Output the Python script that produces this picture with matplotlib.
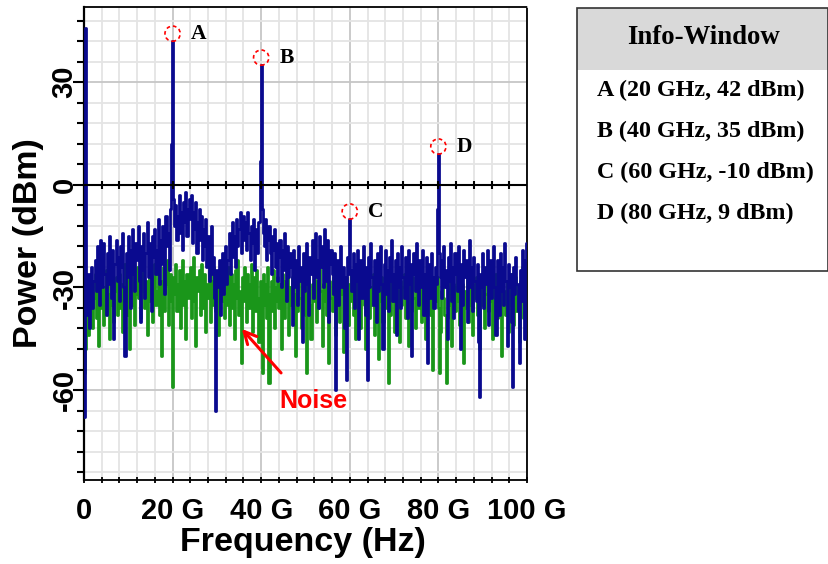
import numpy as np
import matplotlib
matplotlib.use("Agg")
import matplotlib.pyplot as plt
from matplotlib.patches import Ellipse, Rectangle
from matplotlib.ticker import MultipleLocator, FixedLocator

plt.rcParams["path.simplify"] = False

# ---------------- data ----------------
freq_step_ghz = 0.25
signal_dbm = [
    -68, 46, -30, -38, -26, -42, -33, -24, -36, -28, -22, -31, -18, -27, -35, -16,
    -24, -30, -17, -26, -38, -20, -29, -15, -25, -33, -19, -45, -23, -16, -28, -21,
    -34, -18, -24, -14, -30, -50, -20, -27, -15, -23, -36, -19, -13, -26, -31, -17,
    -22, -12, -28, -40, -18, -25, -14, -33, -20, -11, -27, -17, -24, -37, -15, -21,
    -13, -26, -19, -10, -29, -16, -23, -12, -20, -32, -9, -18, -14, -25, -7, 12,
    42, -4, -12, -6, -16, -9, -3, -14, -8, -19, -5, -11, -2, -15, -7, -4,
    -10, -3, -17, -8, -13, -5, -20, -11, -7, -16, -9, -22, -13, -18, -10, -24,
    -15, -28, -19, -12, -26, -21, -33, -66, -25, -30, -22, -38, -27, -20, -32, -24,
    -18, -29, -22, -14, -26, -17, -11, -21, -15, -24, -10, -18, -13, -8, -20, -12,
    -9, -16, -11, -19, -8, -14, -22, -12, -17, -10, -25, -15, -13, -20, -11, 7,
    35, -7, -14, -18, -10, -22, -16, -12, -20, -26, -15, -19, -13, -24, -17, -28,
    -21, -16, -30, -19, -25, -14, -22, -34, -18, -27, -20, -24, -41, -19, -26, -30,
    -22, -35, -18, -28, -24, -46, -20, -31, -25, -17, -29, -38, -21, -26, -16, -33,
    -19, -14, -27, -22, -36, -15, -24, -18, -30, -13, -21, -28, -16, -40, -23, -19,
    -26, -32, -20, -60, -28, -22, -35, -25, -18, -30, -24, -42, -27, -57, -21, -26,
    -10, -25, -31, -20, -36, -23, -28, -19, -45, -26, -22, -33, -18, -29, -38, -24,
    -57, -21, -30, -17, -27, -35, -22, -26, -40, -20, -31, -24, -18, -29, -48, -23,
    -19, -32, -25, -37, -21, -28, -16, -34, -26, -22, -44, -20, -30, -24, -36, -18,
    -27, -33, -21, -25, -39, -19, -29, -23, -50, -26, -20, -31, -17, -28, -35, -22,
    -30, -24, -19, -38, -26, -21, -52, -28, -23, -33, -20, -27, -36, -24, -29, -7,
    9, -20, -27, -33, -22, -18, -30, -25, -45, -21, -28, -17, -34, -24, -39, -20,
    -26, -31, -18, -29, -48, -23, -35, -19, -27, -22, -40, -25, -16, -30, -24, -37,
    -21, -28, -34, -23, -46, -62, -26, -30, -20, -36, -24, -29, -19, -41, -27, -22,
    -33, -25, -18, -30, -44, -22, -27, -38, -20, -31, -24, -35, -17, -28, -47, -23,
    -30, -26, -40, -59, -24, -32, -21, -29, -37, -52, -25, -34, -19, -28, -45, -22,
    -17,
]
noise_dbm = [
    -55, -48, -40, -35, -44, -30, -38, -28, -42, -33, -26, -39, -31, -47, -29, -36,
    -27, -34, -41, -30, -25, -37, -32, -45, -28, -35, -24, -40, -31, -27, -38, -33,
    -26, -36, -29, -43, -34, -23, -31, -38, -27, -48, -30, -25, -35, -28, -41, -32,
    -24, -33, -29, -39, -26, -31, -22, -36, -28, -44, -30, -25, -34, -27, -40, -29,
    -23, -35, -31, -26, -38, -28, -50, -33, -24, -37, -29, -22, -41, -30, -26, -34,
    -59, -27, -32, -23, -37, -29, -25, -42, -31, -22, -35, -28, -45, -26, -33, -30,
    -24, -39, -28, -21, -34, -47, -27, -31, -25, -38, -23, -30, -36, -26, -43, -29,
    -33, -25, -40, -28, -35, -24, -31, -37, -27, -44, -29, -23, -34, -30, -26, -39,
    -28, -35, -24, -41, -30, -26, -36, -29, -45, -25, -33, -22, -38, -31, -52, -27,
    -34, -24, -30, -40, -26, -36, -29, -23, -43, -31, -27, -37, -25, -33, -46, -28,
    -31, -55, -26, -35, -29, -39, -24, -58, -32, -28, -37, -25, -42, -30, -34, -27,
    -36, -29, -48, -26, -33, -39, -28, -31, -24, -44, -30, -35, -27, -40, -32, -50,
    -29, -37, -26, -33, -42, -28, -31, -25, -38, -55, -30, -27, -35, -45, -29, -34,
    -26, -32, -40, -28, -36, -24, -31, -47, -29, -34, -27, -38, -30, -52, -28, -33,
    -37, -27, -31, -44, -29, -35, -26, -40, -32, -28, -49, -30, -36, -27, -33, -41,
    -29, -34, -26, -38, -31, -45, -28, -33, -36, -27, -42, -30, -25, -35, -48, -29,
    -32, -27, -39, -30, -35, -26, -44, -31, -28, -37, -51, -29, -34, -27, -40, -30,
    -36, -28, -33, -58, -29, -38, -26, -34, -43, -30, -27, -36, -31, -46, -28, -35,
    -30, -26, -39, -32, -28, -47, -34, -29, -37, -27, -33, -42, -30, -25, -36, -31,
    -28, -40, -33, -27, -45, -30, -35, -29, -26, -38, -32, -54, -28, -34, -31, -27,
    -36, -55, -43, -31, -26, -33, -38, -58, -39, -30, -35, -27, -47, -32, -29, -37,
    -30, -25, -34, -41, -28, -33, -29, -52, -31, -36, -27, -40, -30, -26, -35, -44,
    -29, -33, -27, -38, -31, -48, -28, -35, -30, -26, -42, -32, -29, -37, -27, -34,
    -31, -45, -28, -33, -26, -39, -30, -36, -29, -50, -27, -34, -31, -38, -28, -43,
    -30, -26, -35, -29, -41, -32, -27, -37, -31, -46, -28, -34, -24, -39, -30, -33,
    -35,
]
marker_labels = ["A", "B", "C", "D"]
marker_freq_ghz = [20, 40, 60, 80]
marker_power_dbm = [42, 35, -10, 9]
x_tick_values = [0, 20, 40, 60, 80, 100]
x_tick_labels = ["0", "20 G", "40 G", "60 G", "80 G", "100 G"]
y_tick_values = [-60, -30, 0, 30]
y_tick_labels = ["-60", "-30", "0", "30"]
info_title = "Info-Window"
info_lines = ["A (20 GHz, 42 dBm)", "B (40 GHz, 35 dBm)",
              "C (60 GHz, -10 dBm)", "D (80 GHz, 9 dBm)"]

freq = np.arange(len(signal_dbm)) * freq_step_ghz

# ---------------- figure ----------------
W, H = 829, 564
fig = plt.figure(figsize=(W / 100, H / 100), dpi=100)
ax = fig.add_axes([84 / W, 1 - 480 / H, (527 - 84) / W, (480 - 7) / H])

SANS = ["Liberation Sans", "DejaVu Sans"]
SERIF = ["Liberation Serif", "DejaVu Serif"]
BLUE = "#0a0a8f"
GREEN = "#1a961a"

ax.set_xlim(0, 100)
ax.set_ylim(-86.3, 52)

ax.xaxis.set_major_locator(FixedLocator(x_tick_values))
ax.xaxis.set_minor_locator(MultipleLocator(4))
ax.yaxis.set_major_locator(FixedLocator(y_tick_values))
ax.yaxis.set_minor_locator(MultipleLocator(6))
ax.set_xticklabels(x_tick_labels)
ax.set_yticklabels(y_tick_labels)

ax.set_axisbelow(True)
ax.grid(which="minor", color="#e4e4e4", lw=1.3)
ax.grid(which="major", color="#c6c6c6", lw=1.3)

ax.plot(freq, noise_dbm, color=GREEN, lw=2.0, drawstyle="steps-mid", zorder=2)
ax.plot(freq, signal_dbm, color=BLUE, lw=2.0, drawstyle="steps-mid", zorder=3)

# zero line with its own small ticks
ax.axhline(0, color="black", lw=1.5, zorder=4)
minor_x = np.arange(4, 100, 4)
ax.plot(minor_x, np.zeros_like(minor_x), linestyle="none", marker="|",
        ms=6, mew=1.5, color="black", zorder=4)

# spines
for s in ["top", "right", "bottom"]:
    ax.spines[s].set_linestyle((0, (1, 1)))
    ax.spines[s].set_linewidth(1.3)
    ax.spines[s].set_color("black")
ax.spines["left"].set_linewidth(1.6)

ax.tick_params(axis="x", which="both", direction="inout", length=5, width=1.3,
               pad=10, labelsize=21)
ax.tick_params(axis="y", which="major", direction="out", length=8, width=1.5,
               pad=-4, labelsize=21, labelrotation=90)
ax.tick_params(axis="y", which="minor", direction="out", length=5, width=1.5)
for lab in ax.get_xticklabels() + ax.get_yticklabels():
    lab.set_fontfamily(SANS)
    lab.set_fontweight("bold")
for lab in ax.get_yticklabels():
    lab.set_verticalalignment("center")

# markers
for lab, f, p in zip(marker_labels, marker_freq_ghz, marker_power_dbm):
    e = Ellipse((f, p + 2.2), width=3.45, height=4.45, fill=False,
                edgecolor="red", lw=1.2, linestyle=(0, (2.2, 1.8)), zorder=5)
    ax.add_patch(e)
    ax.text(f + 4.1, p + 2.2, lab, family=SERIF, fontweight="bold",
            fontsize=15.5, ha="left", va="center", zorder=6)

# noise annotation
ax.annotate("", xy=(35.2, -41.5), xytext=(44.9, -55.6),
            arrowprops=dict(arrowstyle="->", color="red", lw=2.2,
                            mutation_scale=22), zorder=6)
ax.text(51.7, -63.2, "Noise", color="red", family=SANS, fontweight="bold",
        fontsize=18, ha="center", va="center", zorder=6)

# axis titles
fig.text(303 / W, 1 - 543 / H, "Frequency (Hz)", family=SANS, fontweight="bold",
         fontsize=24.5, ha="center", va="center")
fig.text(29 / W, 1 - 243 / H, "Power (dBm)", family=SANS, fontweight="bold",
         fontsize=24.5, ha="center", va="center", rotation=90)

# info window
bx0, bx1, by0, by1, hy = 577, 828, 8, 271, 70
fig.patches.append(Rectangle((bx0 / W, 1 - hy / H), (bx1 - bx0) / W, (hy - by0) / H,
                             transform=fig.transFigure, facecolor="#d9d9d9",
                             edgecolor="none"))
fig.patches.append(Rectangle((bx0 / W, 1 - by1 / H), (bx1 - bx0) / W, (by1 - by0) / H,
                             transform=fig.transFigure, facecolor="none",
                             edgecolor="#333333", lw=1.2))
fig.text((bx0 + bx1) / 2 / W + 0.001, 1 - 38 / H, info_title, family=SERIF,
         fontweight="bold", fontsize=19.3, ha="center", va="center")
for i, line in enumerate(info_lines):
    fig.text(597 / W, 1 - (90 + 41 * i) / H, line, family=SERIF,
             fontweight="bold", fontsize=17.3, ha="left", va="center")

fig.savefig("out.png", dpi=100)
